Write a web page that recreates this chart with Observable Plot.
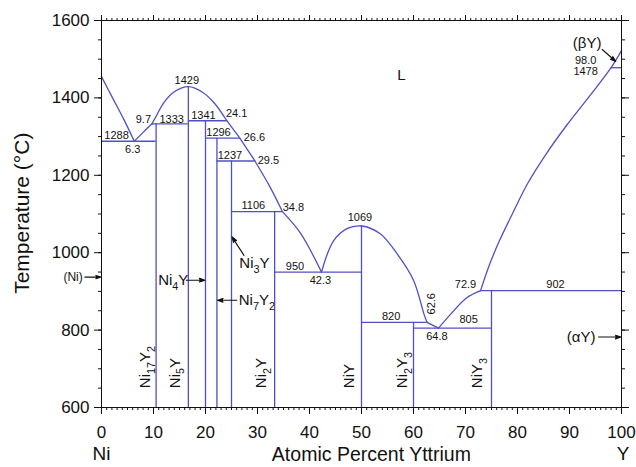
<!DOCTYPE html>
<html><head><meta charset="utf-8">
<script src="https://cdn.jsdelivr.net/npm/d3@7"></script>
<script src="https://cdn.jsdelivr.net/npm/@observablehq/plot@0.6"></script>
<style>html,body{margin:0;padding:0;background:#fff}#chart svg{display:block}</style>
</head><body><div id="chart"></div>
<script>
// ---- Data (x = atomic % Y, y = temperature °C) ----
const xMajor = [0,10,20,30,40,50,60,70,80,90,100];
const xMinor = d3.range(0,101,1);
const yMajor = [600,800,1000,1200,1400,1600];
const yMinor = d3.range(600,1601,50);

// liquidus branches
const liq1 = [[0,1455],[2.2,1398],[4.2,1347],[6.3,1288]];
const liq2 = [[6.3,1288],[8.0,1311],[9.7,1333]];
const liq3 = [[9.7,1333],[10.6,1355],[11.9,1386],[13.8,1414],[16.7,1429],[19.5,1414],[21.8,1385],[24.1,1341]];
const liq4 = [[24.1,1341],[26.6,1296]];
const liq5 = [[26.6,1296],[29.5,1237]];
const liq6 = [[29.5,1237],[32.4,1170],[34.8,1106]];
const liq7 = [[34.8,1106],[38.2,1052],[40.5,998],[42.3,950]];
const liq8 = [[42.3,950],[44.6,1030],[47.2,1062],[50,1069],[53.6,1049],[56.8,998],[60,929],[62,842],[62.6,820]];
const liq9 = [[62.6,820],[64.8,805]];
const liq10 = [[64.8,805],[67.2,842],[70.3,884],[72.9,902]];
const liq11 = [[72.9,902],[74.5,965],[76.5,1030],[79,1100],[82,1180],[85.5,1255],[89.5,1330],[94,1407],[98,1478],[100,1522]];

// compounds (vertical lines)
const compoundX   = [10.5,16.7,20,22.2,25,33.3,50,60,75];
const compoundTop = [1333,1429,1341,1296,1237,1106,1069,820,902];

// invariant reaction lines
const isoT  = [1288,1333,1341,1296,1237,1106,950,820,805,902,1478];
const isoX1 = [0,9.7,16.7,20,22.2,25,33.3,50,60,72.9,98];
const isoX2 = [10.5,16.7,24.1,26.6,29.5,34.8,50,62.6,75,100,100];

// numeric annotations
const numText = ["1429","9.7","1333","1341","24.1","1288","6.3","1296","26.6","1237","29.5","1106","34.8","1069","950","42.3","820","64.8","805","72.9","902","98.0","1478"];
const numX    = [16.4,8.05,13.5,19.6,26.0,2.9,6.0,22.5,29.4,24.7,32.1,29.2,36.9,49.7,37.2,42.1,55.7,64.5,70.6,70.0,87.3,93.1,93.1];
const numY    = [1446,1344,1344,1354,1361,1302,1267,1310,1298,1252,1239,1123,1118,1091,965,927,836,784,827,918,918,1498,1468];

// rotated compound names
const phaseText = ["Ni_17Y_2","Ni_5Y","Ni_2Y","NiY","Ni_2Y_3","NiY_3"];
const phaseX    = [8.4,14.1,30.8,47.6,57.8,72.3];

// horizontal phase names (pointing to a line with an arrow)
const tagText = ["Ni_4Y","Ni_7Y_2","Ni_3Y"];
const tagX    = [10.9,26.4,26.5];
const tagY    = [929,877,973];
const arrX1 = [16.3,26.0,27.4,-3.2,95.6,96.3];
const arrY1 = [929,877,993,937,782,1525];
const arrX2 = [19.9,22.3,25.1,-0.1,99.9,98.9];
const arrY2 = [929,877,1041,937,782,1494];

// ---- tables built from arrays ----
const liqTable = [liq1,liq2,liq3,liq4,liq5,liq6,liq7,liq8,liq9,liq10,liq11]
  .flatMap((s,i)=>s.map(([x,y])=>({x,y,z:i})));
const comps = compoundX.map((x,i)=>({x,top:compoundTop[i]}));
const isos = isoT.map((t,i)=>({t,x1:isoX1[i],x2:isoX2[i]}));
const nums = numText.map((s,i)=>({s,x:numX[i],y:numY[i]}));
const phases = phaseText.map((s,i)=>({s,x:phaseX[i]}));
const tags = tagText.map((s,i)=>({s,x:tagX[i],y:tagY[i]}));
const arrows = arrX1.map((x,i)=>({x1:x,y1:arrY1[i],x2:arrX2[i],y2:arrY2[i]}));

const blue = "#5050c4";
const ink = "#111";
const font = "'Liberation Sans', Arial, sans-serif";
const fmt = d => String(d);

const chart = Plot.plot({
  width: 636, height: 467,
  marginLeft: 101, marginRight: 15, marginTop: 20, marginBottom: 60,
  x: {domain: [0,100]},
  y: {domain: [600,1600]},
  style: {fontFamily: font, background: "#fff", color: ink, overflow: "visible"},
  marks: [
    Plot.ruleX(comps, {x: "x", y1: 600, y2: "top", stroke: blue, strokeWidth: 1.3}),
    Plot.ruleY(isos, {y: "t", x1: "x1", x2: "x2", stroke: blue, strokeWidth: 1.3}),
    Plot.line(liqTable, {x: "x", y: "y", z: "z", stroke: blue, strokeWidth: 1.3, curve: "catmull-rom"}),
    Plot.frame({stroke: ink}),
    // bottom axis
    Plot.axisX({ticks: xMinor, tickSize: 3, tickFormat: () => "", label: null}),
    Plot.axisX({ticks: xMajor, tickSize: 7, tickPadding: 11, fontSize: 17, tickFormat: fmt, label: null}),
    // top axis
    Plot.axisX({anchor: "top", ticks: xMinor, tickSize: 3, tickFormat: () => "", label: null}),
    Plot.axisX({anchor: "top", ticks: xMajor, tickSize: 6, tickFormat: () => "", label: null}),
    // left axis
    Plot.axisY({ticks: yMinor, tickSize: 3, tickFormat: () => "", label: null}),
    Plot.axisY({ticks: yMajor, tickSize: 7, tickPadding: 5, fontSize: 17, tickFormat: fmt, label: null}),
    // right axis
    Plot.axisY({anchor: "right", ticks: yMinor, tickSize: 3, tickFormat: () => "", label: null}),
    Plot.axisY({anchor: "right", ticks: yMajor, tickSize: 7, tickFormat: () => "", label: null}),
    // annotations
    Plot.text(nums, {x: "x", y: "y", text: "s", fontSize: 11, fill: ink}),
    Plot.text(["62.6"], {x: 63.4, y: 868, text: d=>d, rotate: -90, fontSize: 11, fill: ink}),
    Plot.text(phases, {x: "x", y: 650, text: "s", rotate: -90, textAnchor: "start", fontSize: 15, fill: ink}),
    Plot.text(tags, {x: "x", y: "y", text: "s", textAnchor: "start", fontSize: 15, fill: ink}),
    Plot.text(["(Ni)"], {x: -3.6, y: 937, text: d=>d, textAnchor: "end", fontSize: 12, fill: ink}),
    Plot.text(["(αY)"], {x: 95.0, y: 782, text: d=>d, textAnchor: "end", fontSize: 15, fill: ink}),
    Plot.text(["L"], {x: 57.7, y: 1459, text: d=>d, fontSize: 15, fill: ink}),
    Plot.text(["(βY)"], {x: 93.4, y: 1541, text: d=>d, fontSize: 15, fill: ink}),
    Plot.arrow(arrows, {x1: "x1", y1: "y1", x2: "x2", y2: "y2", stroke: ink, strokeWidth: 1.1, headLength: 8, headAngle: 36}),
    // axis titles
    Plot.text(["Temperature (°C)"], {x: -15.3, y: 1102, text: d=>d, rotate: -90, fontSize: 21, fill: ink}),
    Plot.text(["Ni"], {x: 0, y: 479, text: d=>d, fontSize: 19, fill: ink}),
    Plot.text(["Atomic Percent Yttrium"], {x: 51.9, y: 479, text: d=>d, fontSize: 19.5, fill: ink}),
    Plot.text(["Y"], {x: 100.3, y: 479, text: d=>d, fontSize: 19, fill: ink})
  ]
});
document.getElementById("chart").appendChild(chart);

// filled arrowheads
chart.querySelectorAll('g[aria-label="arrow"] path').forEach(p => p.setAttribute("fill", ink));

// subscripts: "_digits" becomes a lowered, smaller tspan
chart.querySelectorAll("text").forEach(t => {
  const s = t.textContent;
  if (!s.includes("_")) return;
  const fs = parseFloat(getComputedStyle(t).fontSize) || 14;
  t.textContent = "";
  let low = false;
  for (const p of s.split(/(_\d+)/).filter(Boolean)) {
    const ts = document.createElementNS("http://www.w3.org/2000/svg", "tspan");
    if (p[0] === "_") {
      ts.textContent = p.slice(1);
      ts.setAttribute("font-size", (fs*0.72).toFixed(1));
      if (!low) ts.setAttribute("dy", (fs*0.32).toFixed(1));
      low = true;
    } else {
      ts.textContent = p;
      if (low) ts.setAttribute("dy", (-fs*0.32).toFixed(1));
      low = false;
    }
    t.appendChild(ts);
  }
});
</script></body></html>
